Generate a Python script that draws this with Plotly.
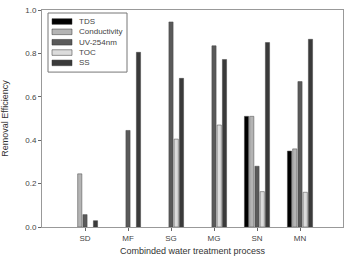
import plotly.graph_objects as go

categories = ["SD", "MF", "SG", "MG", "SN", "MN"]
tds = [None, None, None, None, 0.51, 0.35]
conductivity = [0.245, None, None, None, 0.51, 0.36]
uv254 = [0.057, 0.445, 0.945, 0.835, 0.28, 0.67]
toc = [None, None, 0.405, 0.47, 0.163, 0.16]
ss = [0.029, 0.805, 0.685, 0.772, 0.85, 0.865]

series = [
    ("TDS", tds, "#000000"),
    ("Conductivity", conductivity, "#b4b4b4"),
    ("UV-254nm", uv254, "#5a5a5a"),
    ("TOC", toc, "#dcdcdc"),
    ("SS", ss, "#3a3a3a"),
]

fig = go.Figure()
for name, vals, color in series:
    fig.add_trace(go.Bar(
        x=categories, y=vals, name=name, showlegend=False,
        marker=dict(color=color, line=dict(color="#444444", width=0.5)),
    ))

# custom compact legend (box, swatches, labels) in paper coordinates
PW, PH = 301.0, 216.7
def px(x):
    return (x - 42) / PW
def py(y):
    return (226.7 - y) / PH

shapes = [dict(type="rect", xref="paper", yref="paper",
               x0=px(48), x1=px(127), y0=py(72), y1=py(13),
               line=dict(color="#777777", width=1), fillcolor="white", layer="above")]
annotations = []
row_y = [21.5, 31.8, 42.2, 52.5, 62.8]
for (name, vals, color), ry in zip(series, row_y):
    shapes.append(dict(type="rect", xref="paper", yref="paper",
                       x0=px(52), x1=px(72), y0=py(ry + 2.8), y1=py(ry - 2.8),
                       line=dict(color="#333333", width=0.5), fillcolor=color, layer="above"))
    annotations.append(dict(xref="paper", yref="paper", x=px(76.5), y=py(ry),
                            text=name, showarrow=False, xanchor="left", yanchor="middle",
                            font=dict(size=8, color="#444444")))

fig.update_layout(
    width=346, height=256,
    margin=dict(l=42, r=3, t=10, b=29),
    paper_bgcolor="white", plot_bgcolor="white",
    barmode="group", bargap=0.39, bargroupgap=0.2,
    font=dict(family="Liberation Sans, Arial, sans-serif", size=8, color="#444444"),
    showlegend=False,
    shapes=shapes,
    annotations=annotations,
    xaxis=dict(
        range=[-1, 6], showgrid=False, zeroline=False, automargin=False,
        showline=True, linecolor="#999999", linewidth=1, mirror=True,
        ticks="outside", ticklen=3, tickcolor="#666666",
        tickfont=dict(size=8, color="#444444"),
        title=dict(text="Combinded water treatment process", font=dict(size=9, color="#333333")),
    ),
    yaxis=dict(
        range=[0, 1.0], showgrid=False, zeroline=False, automargin=False,
        showline=True, linecolor="#999999", linewidth=1, mirror=True,
        ticks="outside", ticklen=3, tickcolor="#666666",
        tickvals=[0, 0.2, 0.4, 0.6, 0.8, 1.0],
        ticktext=["0.0", "0.2", "0.4", "0.6", "0.8", "1.0"],
        tickfont=dict(size=8, color="#444444"),
        title=dict(text="Removal Efficiency", font=dict(size=9, color="#333333")),
    ),
)

fig.write_html("out.html")
